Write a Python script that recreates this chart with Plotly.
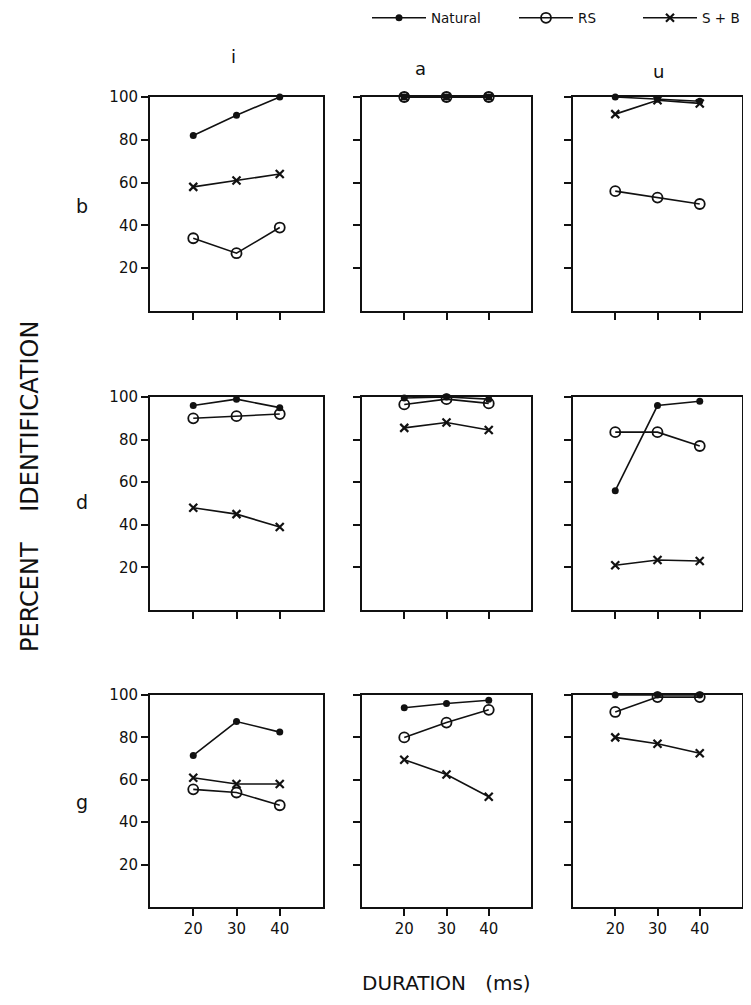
import plotly.graph_objects as go

durations = [20, 30, 40]
vowels = ["i", "a", "u"]
consonants = ["b", "d", "g"]
series_names = ["Natural", "RS", "S + B"]

b_i_natural = [82, 91.5, 100]
b_i_rs = [34, 27, 39]
b_i_sb = [58, 61, 64]
b_a_natural = [100, 100, 100]
b_a_rs = [100, 100, 100]
b_a_sb = [100, 100, 100]
b_u_natural = [100, 99, 98]
b_u_rs = [56, 53, 50]
b_u_sb = [92, 98.5, 97]

d_i_natural = [96, 99, 95]
d_i_rs = [90, 91, 92]
d_i_sb = [48, 45, 39]
d_a_natural = [99.5, 100, 99]
d_a_rs = [96.5, 99, 97]
d_a_sb = [85.5, 88, 84.5]
d_u_natural = [56, 96, 98]
d_u_rs = [83.5, 83.5, 77]
d_u_sb = [21, 23.5, 23]

g_i_natural = [71.5, 87.5, 82.5]
g_i_rs = [55.5, 54, 48]
g_i_sb = [61, 58, 58]
g_a_natural = [94, 96, 97.5]
g_a_rs = [80, 87, 93]
g_a_sb = [69.5, 62.5, 52]
g_u_natural = [100, 100, 100]
g_u_rs = [92, 99, 99]
g_u_sb = [80, 77, 72.5]

data = {
    "b": {"i": (b_i_natural, b_i_rs, b_i_sb), "a": (b_a_natural, b_a_rs, b_a_sb), "u": (b_u_natural, b_u_rs, b_u_sb)},
    "d": {"i": (d_i_natural, d_i_rs, d_i_sb), "a": (d_a_natural, d_a_rs, d_a_sb), "u": (d_u_natural, d_u_rs, d_u_sb)},
    "g": {"i": (g_i_natural, g_i_rs, g_i_sb), "a": (g_a_natural, g_a_rs, g_a_sb), "u": (g_u_natural, g_u_rs, g_u_sb)},
}

# page has an 8px body margin, so the figure is 16px smaller than the window
OFF = 8
W, H = 735, 989
col_px = [(150, 323), (362, 531), (573, 742)]
row_px = [(97, 311), (397, 610), (695, 907)]
legend_px = [367, 514, 638]


def px(xr):
    return (xr - OFF) / W


def py(yr):
    return 1 - (yr - OFF) / H


FONT = "DejaVu Sans"
INK = "#111111"

marker_styles = [
    dict(symbol="circle", size=7, color=INK, line=dict(width=0)),
    dict(symbol="circle-open", size=10, color=INK, line=dict(width=1.8, color=INK)),
    dict(symbol="x-thin", size=8, color=INK, line=dict(width=2.2, color=INK)),
]
legend_ids = ["legend", "legend2", "legend3"]

fig = go.Figure()
layout = {}
k = 0
for r, cons in enumerate(consonants):
    for c, vow in enumerate(vowels):
        k += 1
        xa = "x" if k == 1 else f"x{k}"
        ya = "y" if k == 1 else f"y{k}"
        xkey = "xaxis" if k == 1 else f"xaxis{k}"
        ykey = "yaxis" if k == 1 else f"yaxis{k}"
        vals = data[cons][vow]
        for s, name in enumerate(series_names):
            fig.add_trace(go.Scatter(
                x=durations, y=vals[s], mode="lines+markers", name=name,
                xaxis=xa, yaxis=ya, cliponaxis=False,
                line=dict(color=INK, width=1.6),
                marker=marker_styles[s],
                showlegend=(k == 1), legendgroup=name, legend=legend_ids[s],
            ))
        x0, x1 = col_px[c]
        y0, y1 = row_px[r]
        layout[xkey] = dict(
            domain=[px(x0), px(x1)], range=[10, 50], anchor=ya,
            tickvals=durations, ticktext=[str(d) for d in durations] if r == 2 else ["", "", ""],
            ticks="outside", ticklen=7, tickwidth=2, tickcolor=INK,
            showline=True, linewidth=2, linecolor=INK, mirror=True,
            showgrid=False, zeroline=False,
            tickfont=dict(family=FONT, size=15, color=INK),
        )
        layout[ykey] = dict(
            domain=[py(y1), py(y0)], range=[0, 100], anchor=xa,
            tickvals=[20, 40, 60, 80, 100],
            ticktext=["20", "40", "60", "80", "100"] if c == 0 else [""] * 5,
            ticks="outside", ticklen=7, tickwidth=2, tickcolor=INK,
            showline=True, linewidth=2, linecolor=INK, mirror=True,
            showgrid=False, zeroline=False,
            tickfont=dict(family=FONT, size=15, color=INK),
        )

for lid, lx in zip(legend_ids, legend_px):
    layout[lid] = dict(orientation="h", x=px(lx), xanchor="left", y=py(18), yanchor="middle",
                       font=dict(family=FONT, size=13.5, color=INK), bgcolor="rgba(0,0,0,0)",
                       itemwidth=54, tracegroupgap=0)


def note(text, xr, yr, size, angle=0):
    return dict(text=text, x=px(xr), y=py(yr), xref="paper", yref="paper",
                xanchor="center", yanchor="middle", showarrow=False, textangle=angle,
                font=dict(family=FONT, size=size, color=INK))


annotations = []
col_title_pos = [(233, 57), (420, 69), (658, 71)]
for vow, (xr, yr) in zip(vowels, col_title_pos):
    annotations.append(note(vow, xr, yr, 18))
row_label_pos = [(82, 206), (82, 502), (82, 802)]
for cons, (xr, yr) in zip(consonants, row_label_pos):
    annotations.append(note(cons, xr, yr, 19))
annotations.append(note("PERCENT\u00a0\u00a0\u00a0\u00a0IDENTIFICATION", 30, 487, 24, -90))
annotations.append(note("DURATION\u00a0\u00a0\u00a0(ms)", 446, 983, 20))

fig.update_layout(
    width=W, height=H,
    margin=dict(l=0, r=0, t=0, b=0, autoexpand=False),
    paper_bgcolor="white", plot_bgcolor="white",
    showlegend=True,
    annotations=annotations,
    **layout,
)

fig.write_html("out.html")
